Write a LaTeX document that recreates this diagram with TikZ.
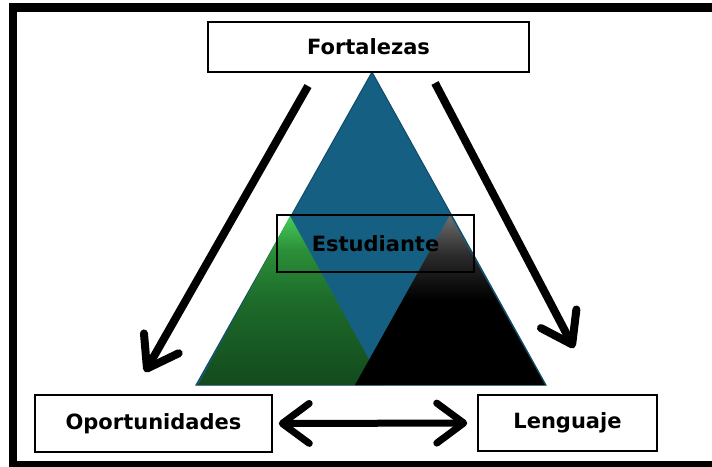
\documentclass[tikz,border=0pt]{standalone}
\usepackage{fontspec}
\setmainfont{DejaVu Sans}
\usetikzlibrary{arrows.meta}
\definecolor{triblue}{HTML}{156082}
\definecolor{triblueedge}{HTML}{0F4A66}
\definecolor{gtop}{HTML}{45CC5A}
\definecolor{gup}{HTML}{2B8F39}
\definecolor{gmid}{HTML}{1D6B2A}
\definecolor{gbot}{HTML}{134A1E}
\definecolor{ktop}{HTML}{6E6E6E}
\definecolor{kup}{HTML}{2A2A2A}
\pgfdeclareverticalshading{greenshade}{100bp}{color(0bp)=(gbot); color(25bp)=(gbot); color(50bp)=(gmid); color(65bp)=(gup); color(75bp)=(gtop); color(100bp)=(gtop)}
\pgfdeclareverticalshading{blackshade}{100bp}{color(0bp)=(black); color(25bp)=(black); color(50bp)=(black); color(63bp)=(kup); color(75bp)=(ktop); color(100bp)=(ktop)}
\tikzset{
  lbl/.style={font=\bfseries\fontsize{21}{25}\selectfont, text=black},
  labelbox/.style={lbl, draw=black, line width=1.5pt, fill=white, inner sep=0pt},
  bigarrow/.style={line width=8pt, -{Straight Barb[length=29pt,width=40pt,round]}},
  dblarrow/.style={line width=7pt, {Straight Barb[length=27pt,width=40pt,round]}-{Straight Barb[length=27pt,width=40pt,round]}},
}
\begin{document}
\begin{tikzpicture}[x=1pt,y=-1pt]
\useasboundingbox (0,0) rectangle (712,466);
\fill[white] (0,0) rectangle (712,466);
% outer frame (right side lies outside the picture)
\draw[line width=8.5pt] (720,7.5) -- (13,7.5) -- (13,465.5) -- (720,465.5);
% triangles
\filldraw[fill=triblue, draw=triblueedge, line width=1pt] (372,72) -- (196,385) -- (546,385) -- cycle;
\shade[shading=greenshade] (290,216) -- (198,385) -- (383,385) -- cycle;
\shade[shading=blackshade] (450,215) -- (355,385) -- (545,385) -- cycle;
% boxes
\node[labelbox, minimum width=321pt, minimum height=50pt] (fort) at (368.5,47) {Fortalezas};
\node[labelbox, minimum width=237pt, minimum height=57pt] (opor) at (153.5,423.5) {Oportunidades};
\node[labelbox, minimum width=179pt, minimum height=56pt] (leng) at (567.5,423) {Lenguaje};
\node[lbl, draw=black, line width=1.5pt, inner sep=0pt, minimum width=197pt, minimum height=57pt] (est) at (375.5,243.5) {Estudiante};
% arrows
\coordinate (l1) at (308,86);
\coordinate (l2) at (145,372);
\coordinate (r1) at (435,83);
\coordinate (r2) at (574,348);
\draw[bigarrow] (l1) -- (l2);
\draw[bigarrow] (r1) -- (r2);
\draw[dblarrow, shorten <=6pt, shorten >=10pt] (opor.east) -- (leng.west);
\end{tikzpicture}
\end{document}
